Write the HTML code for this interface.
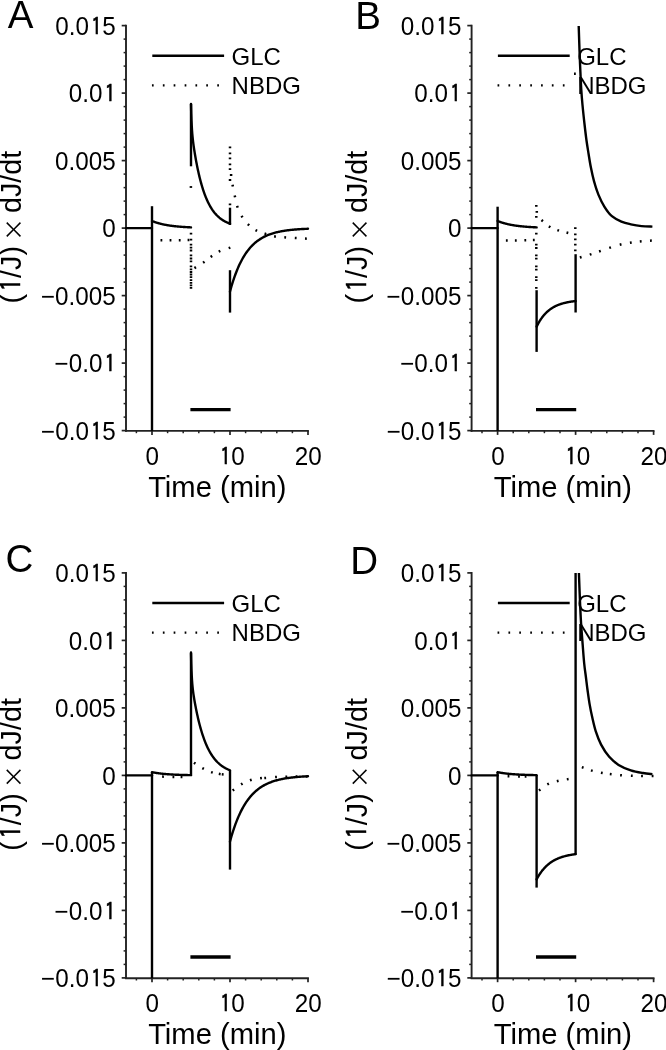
<!DOCTYPE html><html><head><meta charset="utf-8"><title>Figure</title><style>html,body{margin:0;padding:0;background:#fff;}svg{display:block;filter:blur(0.35px);}</style></head><body>
<svg width="666" height="1050" viewBox="0 0 666 1050">
<rect width="666" height="1050" fill="#fff"/>
<g transform="translate(0,0)" stroke="#000" fill="#000" style="font-family:'Liberation Sans',Arial,Helvetica,sans-serif">
<g stroke="#222">
<line x1="126" y1="24.7" x2="126" y2="431.8" stroke-width="1.9"/>
<line x1="125.1" y1="430.9" x2="308.9" y2="430.9" stroke-width="1.9"/>
<line x1="121.7" y1="430.6" x2="126" y2="430.6" stroke-width="1.7"/>
<line x1="123.6" y1="417.1" x2="126" y2="417.1" stroke-width="1.5"/>
<line x1="123.6" y1="403.6" x2="126" y2="403.6" stroke-width="1.5"/>
<line x1="123.6" y1="390.1" x2="126" y2="390.1" stroke-width="1.5"/>
<line x1="123.6" y1="376.6" x2="126" y2="376.6" stroke-width="1.5"/>
<line x1="121.7" y1="363.1" x2="126" y2="363.1" stroke-width="1.7"/>
<line x1="123.6" y1="349.6" x2="126" y2="349.6" stroke-width="1.5"/>
<line x1="123.6" y1="336.1" x2="126" y2="336.1" stroke-width="1.5"/>
<line x1="123.6" y1="322.6" x2="126" y2="322.6" stroke-width="1.5"/>
<line x1="123.6" y1="309.1" x2="126" y2="309.1" stroke-width="1.5"/>
<line x1="121.7" y1="295.6" x2="126" y2="295.6" stroke-width="1.7"/>
<line x1="123.6" y1="282.1" x2="126" y2="282.1" stroke-width="1.5"/>
<line x1="123.6" y1="268.6" x2="126" y2="268.6" stroke-width="1.5"/>
<line x1="123.6" y1="255.1" x2="126" y2="255.1" stroke-width="1.5"/>
<line x1="123.6" y1="241.6" x2="126" y2="241.6" stroke-width="1.5"/>
<line x1="121.7" y1="228.1" x2="126" y2="228.1" stroke-width="1.7"/>
<line x1="123.6" y1="214.6" x2="126" y2="214.6" stroke-width="1.5"/>
<line x1="123.6" y1="201.1" x2="126" y2="201.1" stroke-width="1.5"/>
<line x1="123.6" y1="187.6" x2="126" y2="187.6" stroke-width="1.5"/>
<line x1="123.6" y1="174.1" x2="126" y2="174.1" stroke-width="1.5"/>
<line x1="121.7" y1="160.6" x2="126" y2="160.6" stroke-width="1.7"/>
<line x1="123.6" y1="147.1" x2="126" y2="147.1" stroke-width="1.5"/>
<line x1="123.6" y1="133.6" x2="126" y2="133.6" stroke-width="1.5"/>
<line x1="123.6" y1="120.1" x2="126" y2="120.1" stroke-width="1.5"/>
<line x1="123.6" y1="106.6" x2="126" y2="106.6" stroke-width="1.5"/>
<line x1="121.7" y1="93.1" x2="126" y2="93.1" stroke-width="1.7"/>
<line x1="123.6" y1="79.6" x2="126" y2="79.6" stroke-width="1.5"/>
<line x1="123.6" y1="66.1" x2="126" y2="66.1" stroke-width="1.5"/>
<line x1="123.6" y1="52.6" x2="126" y2="52.6" stroke-width="1.5"/>
<line x1="123.6" y1="39.1" x2="126" y2="39.1" stroke-width="1.5"/>
<line x1="121.7" y1="25.6" x2="126" y2="25.6" stroke-width="1.7"/>
<line x1="136.4" y1="430.9" x2="136.4" y2="433.2" stroke-width="1.5"/>
<line x1="152" y1="430.9" x2="152" y2="434.9" stroke-width="1.7"/>
<line x1="167.6" y1="430.9" x2="167.6" y2="433.2" stroke-width="1.5"/>
<line x1="183.2" y1="430.9" x2="183.2" y2="433.2" stroke-width="1.5"/>
<line x1="198.8" y1="430.9" x2="198.8" y2="433.2" stroke-width="1.5"/>
<line x1="214.4" y1="430.9" x2="214.4" y2="433.2" stroke-width="1.5"/>
<line x1="230" y1="430.9" x2="230" y2="434.9" stroke-width="1.7"/>
<line x1="245.6" y1="430.9" x2="245.6" y2="433.2" stroke-width="1.5"/>
<line x1="261.2" y1="430.9" x2="261.2" y2="433.2" stroke-width="1.5"/>
<line x1="276.8" y1="430.9" x2="276.8" y2="433.2" stroke-width="1.5"/>
<line x1="292.4" y1="430.9" x2="292.4" y2="433.2" stroke-width="1.5"/>
<line x1="308" y1="430.9" x2="308" y2="434.9" stroke-width="1.7"/>
</g>
<g stroke="none">
<text transform="translate(115.8,34.9) scale(1,1.045)" text-anchor="end" font-size="24.25">0.0<tspan font-family="IPAGothic,'Liberation Sans',sans-serif" font-size="22.08" stroke="#000" stroke-width="0.45" dx="2.02" style="letter-spacing:0.29px">1</tspan>5</text>
<text transform="translate(115.8,102.4) scale(1,1.045)" text-anchor="end" font-size="24.25">0.0<tspan font-family="IPAGothic,'Liberation Sans',sans-serif" font-size="22.08" stroke="#000" stroke-width="0.45" dx="2.02" style="letter-spacing:0.29px">1</tspan></text>
<text transform="translate(115.8,169.9) scale(1,1.045)" text-anchor="end" font-size="24.25">0.005</text>
<text transform="translate(115.8,237.4) scale(1,1.045)" text-anchor="end" font-size="24.25">0</text>
<text transform="translate(115.8,304.9) scale(1,1.045)" text-anchor="end" font-size="24.25">−0.005</text>
<text transform="translate(115.8,372.4) scale(1,1.045)" text-anchor="end" font-size="24.25">−0.0<tspan font-family="IPAGothic,'Liberation Sans',sans-serif" font-size="22.08" stroke="#000" stroke-width="0.45" dx="2.02" style="letter-spacing:0.29px">1</tspan></text>
<text transform="translate(115.8,439.9) scale(1,1.045)" text-anchor="end" font-size="24.25">−0.0<tspan font-family="IPAGothic,'Liberation Sans',sans-serif" font-size="22.08" stroke="#000" stroke-width="0.45" dx="2.02" style="letter-spacing:0.29px">1</tspan>5</text>
<text transform="translate(152.3,464.6) scale(1,1.045)" text-anchor="middle" font-size="24.25">0</text>
<text transform="translate(230.3,464.6) scale(1,1.045)" text-anchor="middle" font-size="24.25"><tspan font-family="IPAGothic,'Liberation Sans',sans-serif" font-size="22.08" stroke="#000" stroke-width="0.45" dx="2.02" style="letter-spacing:0.29px">1</tspan>0</text>
<text transform="translate(308.3,464.6) scale(1,1.045)" text-anchor="middle" font-size="24.25">20</text>
<text transform="translate(217.3,496.7) scale(1,1.03)" text-anchor="middle" font-size="29.2">Time (min)</text>
<text transform="translate(21.4,227.1) rotate(-90)" text-anchor="middle" font-size="28.8">(<tspan font-family="IPAGothic,'Liberation Sans',sans-serif" font-size="26.5" stroke="#000" stroke-width="0.45" dx="2.42" style="letter-spacing:0.35px">1</tspan>/J) <tspan font-family="'Noto Sans CJK SC','Liberation Sans',sans-serif" font-size="23" dx="-3.1" dy="0.8">×</tspan><tspan dx="-3.1" dy="-0.8"> dJ/dt</tspan></text>
<text x="7.8" y="28.3" font-size="38.5">A</text>
<text transform="translate(231.6,65.1) scale(1,1.03)" font-size="24">GLC</text>
<text transform="translate(231.6,93.8) scale(1,1.03)" font-size="24">NBDG</text>
</g>
<line x1="152.3" y1="55.7" x2="224.1" y2="55.7" stroke-width="2.4"/>
<path d="M151.95,85.3L153.65,85.3M162.85,85.3L164.55,85.3M173.65,85.3L175.35,85.3M184.65,85.3L186.35,85.3M195.45,85.3L197.15,85.3M206.25,85.3L207.95,85.3M217.25,85.3L218.95,85.3" fill="none" stroke-width="2.3"/>
<line x1="190.4" y1="409.7" x2="230.6" y2="409.7" stroke-width="3.3"/>
<polyline points="126,228.1 152,228.1" fill="none" stroke-width="2.4" stroke-linejoin="round" stroke-linecap="round"/>
<line x1="152" y1="206.2" x2="152" y2="430.9" stroke-width="2.4"/>
<polyline points="152,220.94 152.39,221.11 152.78,221.26 153.17,221.42 153.56,221.57 153.95,221.71 154.34,221.86 154.73,222 155.12,222.13 155.51,222.27 155.9,222.4 156.29,222.53 156.68,222.65 157.07,222.78 157.46,222.89 157.85,223.01 158.24,223.13 158.63,223.24 159.02,223.35 159.41,223.45 159.8,223.56 160.19,223.66 160.58,223.76 160.97,223.86 161.36,223.95 161.75,224.05 162.14,224.14 162.53,224.23 162.92,224.31 163.31,224.4 163.7,224.48 164.09,224.56 164.48,224.64 164.87,224.72 165.26,224.8 165.65,224.87 166.04,224.94 166.43,225.01 166.82,225.08 167.21,225.15 167.6,225.22 167.99,225.28 168.38,225.35 168.77,225.41 169.16,225.47 169.55,225.53 169.94,225.58 170.33,225.64 170.72,225.7 171.11,225.75 171.5,225.8 171.89,225.85 172.28,225.91 172.67,225.95 173.06,226 173.45,226.05 173.84,226.1 174.23,226.14 174.62,226.19 175.01,226.23 175.4,226.27 175.79,226.31 176.18,226.35 176.57,226.39 176.96,226.43 177.35,226.47 177.74,226.5 178.13,226.54 178.52,226.57 178.91,226.61 179.3,226.64 179.69,226.67 180.08,226.71 180.47,226.74 180.86,226.77 181.25,226.8 181.64,226.83 182.03,226.86 182.42,226.88 182.81,226.91 183.2,226.94 183.59,226.96 183.98,226.99 184.37,227.02 184.76,227.04 185.15,227.06 185.54,227.09 185.93,227.11 186.32,227.13 186.71,227.15 187.1,227.17 187.49,227.2 187.88,227.22 188.27,227.24 188.66,227.26 189.05,227.27 189.44,227.29 189.83,227.31 190.22,227.33 190.61,227.35 191,227.36" fill="none" stroke-width="2.4" stroke-linejoin="round" stroke-linecap="round"/>
<line x1="191" y1="104" x2="191" y2="166.3" stroke-width="2.4"/>
<polyline points="191,103.9 191.26,113.81 191.52,121.01 191.78,126.41 192.04,130.61 192.3,134.01 192.56,136.86 192.82,139.35 193.08,141.58 193.34,143.62 193.6,145.54 193.86,147.35 194.12,149.09 194.38,150.77 194.64,152.4 194.9,153.98 195.16,155.52 195.42,157.03 195.68,158.5 195.94,159.94 196.2,161.35 196.46,162.72 196.72,164.07 196.98,165.39 197.24,166.69 197.5,167.95 197.76,169.19 198.02,170.41 198.28,171.6 198.54,172.76 198.8,173.9 199.06,175.02 199.32,176.12 199.58,177.19 199.84,178.24 200.1,179.27 200.36,180.27 200.62,181.26 200.88,182.22 201.14,183.17 201.4,184.1 201.66,185 201.92,185.89 202.18,186.76 202.44,187.62 202.7,188.45 202.96,189.27 203.22,190.07 203.48,190.85 203.74,191.62 204,192.37 204.26,193.11 204.52,193.83 204.78,194.54 205.04,195.23 205.3,195.91 205.56,196.57 205.82,197.22 206.08,197.86 206.34,198.48 206.6,199.09 206.86,199.69 207.12,200.28 207.38,200.85 207.64,201.41 207.9,201.96 208.16,202.5 208.42,203.03 208.68,203.54 208.94,204.05 209.2,204.55 209.46,205.03 209.72,205.51 209.98,205.97 210.24,206.43 210.5,206.88 210.76,207.31 211.02,207.74 211.28,208.16 211.54,208.57 211.8,208.98 212.06,209.37 212.32,209.76 212.58,210.13 212.84,210.51 213.1,210.87 213.36,211.22 213.62,211.57 213.88,211.91 214.14,212.25 214.4,212.57 214.66,212.89 214.92,213.21 215.18,213.51 215.44,213.81 215.7,214.11 215.96,214.4 216.22,214.68 216.48,214.96 216.74,215.23 217,215.49 217.26,215.75 217.52,216.01 217.78,216.26 218.04,216.5 218.3,216.74 218.56,216.97 218.82,217.2 219.08,217.43 219.34,217.65 219.6,217.86 219.86,218.07 220.12,218.28 220.38,218.48 220.64,218.68 220.9,218.88 221.16,219.07 221.42,219.25 221.68,219.44 221.94,219.61 222.2,219.79 222.46,219.96 222.72,220.13 222.98,220.29 223.24,220.45 223.5,220.61 223.76,220.77 224.02,220.92 224.28,221.06 224.54,221.21 224.8,221.35 225.06,221.49 225.32,221.63 225.58,221.76 225.84,221.89 226.1,222.02 226.36,222.14 226.62,222.27 226.88,222.39 227.14,222.51 227.4,222.62 227.66,222.73 227.92,222.84 228.18,222.95 228.44,223.06 228.7,223.16 228.96,223.26 229.22,223.36 229.48,223.46 229.74,223.56 230,223.65" fill="none" stroke-width="2.4" stroke-linejoin="round" stroke-linecap="round"/>
<line x1="230" y1="207.7" x2="230" y2="225" stroke-width="2.4"/>
<line x1="230" y1="270.2" x2="230" y2="312.6" stroke-width="2.4"/>
<polyline points="230,291.55 230.78,288.73 231.56,286.04 232.34,283.46 233.12,281 233.9,278.65 234.68,276.4 235.46,274.26 236.24,272.21 237.02,270.25 237.8,268.37 238.58,266.58 239.36,264.87 240.14,263.24 240.92,261.68 241.7,260.19 242.48,258.76 243.26,257.4 244.04,256.1 244.82,254.85 245.6,253.66 246.38,252.53 247.16,251.44 247.94,250.4 248.72,249.41 249.5,248.47 250.28,247.56 251.06,246.7 251.84,245.87 252.62,245.08 253.4,244.33 254.18,243.6 254.96,242.92 255.74,242.26 256.52,241.63 257.3,241.03 258.08,240.45 258.86,239.9 259.64,239.38 260.42,238.88 261.2,238.4 261.98,237.94 262.76,237.5 263.54,237.09 264.32,236.69 265.1,236.31 265.88,235.94 266.66,235.59 267.44,235.26 268.22,234.94 269,234.64 269.78,234.35 270.56,234.07 271.34,233.8 272.12,233.55 272.9,233.31 273.68,233.08 274.46,232.86 275.24,232.64 276.02,232.44 276.8,232.25 277.58,232.07 278.36,231.89 279.14,231.72 279.92,231.56 280.7,231.41 281.48,231.26 282.26,231.12 283.04,230.98 283.82,230.86 284.6,230.73 285.38,230.62 286.16,230.5 286.94,230.4 287.72,230.3 288.5,230.2 289.28,230.11 290.06,230.02 290.84,229.93 291.62,229.85 292.4,229.77 293.18,229.7 293.96,229.63 294.74,229.56 295.52,229.49 296.3,229.43 297.08,229.37 297.86,229.32 298.64,229.26 299.42,229.21 300.2,229.16 300.98,229.11 301.76,229.07 302.54,229.03 303.32,228.98 304.1,228.95 304.88,228.91 305.66,228.87 306.44,228.84 307.22,228.8 308,228.77" fill="none" stroke-width="2.4" stroke-linejoin="round" stroke-linecap="round"/>
<path d="M160.5,240.2L162.3,240.2M169.6,240.2L171.4,240.2M178.8,240.21L180.6,240.19M187.6,240.02L189.4,239.98" fill="none" stroke-width="2.5"/>
<path d="M191,232.8L191,234.6M191,238.8L191,240.6M191,243.8L191,245.6M191,246.8L191,248.6M191,249.6L191,251.4M191,254.4L191,256.2M191,257.6L191,259.4M191,260.4L191,262.2M191,265.4L191,267.2M191,268.4L191,270.2M191,271.1L191,272.9M191,273.6L191,275.4M191,276.2L191,278M191,279.3L191,281.1M191,282L191,283.8M191,284.4L191,286.2M191,286.9L191,288.7" fill="none" stroke-width="2.5"/>
<path d="M190.9,186.1L190.9,187.9" fill="none" stroke-width="2.5"/>
<path d="M194.44,268.08L195.96,267.12M203.06,262.71L204.54,261.69M210.66,256.92L212.14,255.88M218.69,251.58L220.31,250.82M228.65,248.18L230.35,247.62" fill="none" stroke-width="2.5"/>
<path d="M230,146.5L230,148.3M230,152.5L230,154.3M230,157.5L230,159.3M230,163.4L230,165.2M230,168.2L230,170M231.1,174.1L231.1,175.9M230,179.1L230,180.9M230,203.4L230,205.2" fill="none" stroke-width="2.5"/>
<path d="M232.52,184.82L232.88,186.58M234.7,195.52L235.1,197.28M237.1,205.95L237.7,207.65M241.53,215.93L242.47,217.47M247.85,224.18L249.15,225.42M255.51,230.08L257.09,230.92M264.54,233.53L266.26,234.07M274.11,236.34L275.89,236.66M284.3,237.33L286.1,237.47M294.8,237.95L296.6,238.05M305,238.55L306.8,238.65" fill="none" stroke-width="2.5"/>
</g>
<g transform="translate(345.6,0)" stroke="#000" fill="#000" style="font-family:'Liberation Sans',Arial,Helvetica,sans-serif">
<g stroke="#222">
<line x1="126" y1="24.7" x2="126" y2="431.8" stroke-width="1.9"/>
<line x1="125.1" y1="430.9" x2="308.9" y2="430.9" stroke-width="1.9"/>
<line x1="121.7" y1="430.6" x2="126" y2="430.6" stroke-width="1.7"/>
<line x1="123.6" y1="417.1" x2="126" y2="417.1" stroke-width="1.5"/>
<line x1="123.6" y1="403.6" x2="126" y2="403.6" stroke-width="1.5"/>
<line x1="123.6" y1="390.1" x2="126" y2="390.1" stroke-width="1.5"/>
<line x1="123.6" y1="376.6" x2="126" y2="376.6" stroke-width="1.5"/>
<line x1="121.7" y1="363.1" x2="126" y2="363.1" stroke-width="1.7"/>
<line x1="123.6" y1="349.6" x2="126" y2="349.6" stroke-width="1.5"/>
<line x1="123.6" y1="336.1" x2="126" y2="336.1" stroke-width="1.5"/>
<line x1="123.6" y1="322.6" x2="126" y2="322.6" stroke-width="1.5"/>
<line x1="123.6" y1="309.1" x2="126" y2="309.1" stroke-width="1.5"/>
<line x1="121.7" y1="295.6" x2="126" y2="295.6" stroke-width="1.7"/>
<line x1="123.6" y1="282.1" x2="126" y2="282.1" stroke-width="1.5"/>
<line x1="123.6" y1="268.6" x2="126" y2="268.6" stroke-width="1.5"/>
<line x1="123.6" y1="255.1" x2="126" y2="255.1" stroke-width="1.5"/>
<line x1="123.6" y1="241.6" x2="126" y2="241.6" stroke-width="1.5"/>
<line x1="121.7" y1="228.1" x2="126" y2="228.1" stroke-width="1.7"/>
<line x1="123.6" y1="214.6" x2="126" y2="214.6" stroke-width="1.5"/>
<line x1="123.6" y1="201.1" x2="126" y2="201.1" stroke-width="1.5"/>
<line x1="123.6" y1="187.6" x2="126" y2="187.6" stroke-width="1.5"/>
<line x1="123.6" y1="174.1" x2="126" y2="174.1" stroke-width="1.5"/>
<line x1="121.7" y1="160.6" x2="126" y2="160.6" stroke-width="1.7"/>
<line x1="123.6" y1="147.1" x2="126" y2="147.1" stroke-width="1.5"/>
<line x1="123.6" y1="133.6" x2="126" y2="133.6" stroke-width="1.5"/>
<line x1="123.6" y1="120.1" x2="126" y2="120.1" stroke-width="1.5"/>
<line x1="123.6" y1="106.6" x2="126" y2="106.6" stroke-width="1.5"/>
<line x1="121.7" y1="93.1" x2="126" y2="93.1" stroke-width="1.7"/>
<line x1="123.6" y1="79.6" x2="126" y2="79.6" stroke-width="1.5"/>
<line x1="123.6" y1="66.1" x2="126" y2="66.1" stroke-width="1.5"/>
<line x1="123.6" y1="52.6" x2="126" y2="52.6" stroke-width="1.5"/>
<line x1="123.6" y1="39.1" x2="126" y2="39.1" stroke-width="1.5"/>
<line x1="121.7" y1="25.6" x2="126" y2="25.6" stroke-width="1.7"/>
<line x1="136.4" y1="430.9" x2="136.4" y2="433.2" stroke-width="1.5"/>
<line x1="152" y1="430.9" x2="152" y2="434.9" stroke-width="1.7"/>
<line x1="167.6" y1="430.9" x2="167.6" y2="433.2" stroke-width="1.5"/>
<line x1="183.2" y1="430.9" x2="183.2" y2="433.2" stroke-width="1.5"/>
<line x1="198.8" y1="430.9" x2="198.8" y2="433.2" stroke-width="1.5"/>
<line x1="214.4" y1="430.9" x2="214.4" y2="433.2" stroke-width="1.5"/>
<line x1="230" y1="430.9" x2="230" y2="434.9" stroke-width="1.7"/>
<line x1="245.6" y1="430.9" x2="245.6" y2="433.2" stroke-width="1.5"/>
<line x1="261.2" y1="430.9" x2="261.2" y2="433.2" stroke-width="1.5"/>
<line x1="276.8" y1="430.9" x2="276.8" y2="433.2" stroke-width="1.5"/>
<line x1="292.4" y1="430.9" x2="292.4" y2="433.2" stroke-width="1.5"/>
<line x1="308" y1="430.9" x2="308" y2="434.9" stroke-width="1.7"/>
</g>
<g stroke="none">
<text transform="translate(115.8,34.9) scale(1,1.045)" text-anchor="end" font-size="24.25">0.0<tspan font-family="IPAGothic,'Liberation Sans',sans-serif" font-size="22.08" stroke="#000" stroke-width="0.45" dx="2.02" style="letter-spacing:0.29px">1</tspan>5</text>
<text transform="translate(115.8,102.4) scale(1,1.045)" text-anchor="end" font-size="24.25">0.0<tspan font-family="IPAGothic,'Liberation Sans',sans-serif" font-size="22.08" stroke="#000" stroke-width="0.45" dx="2.02" style="letter-spacing:0.29px">1</tspan></text>
<text transform="translate(115.8,169.9) scale(1,1.045)" text-anchor="end" font-size="24.25">0.005</text>
<text transform="translate(115.8,237.4) scale(1,1.045)" text-anchor="end" font-size="24.25">0</text>
<text transform="translate(115.8,304.9) scale(1,1.045)" text-anchor="end" font-size="24.25">−0.005</text>
<text transform="translate(115.8,372.4) scale(1,1.045)" text-anchor="end" font-size="24.25">−0.0<tspan font-family="IPAGothic,'Liberation Sans',sans-serif" font-size="22.08" stroke="#000" stroke-width="0.45" dx="2.02" style="letter-spacing:0.29px">1</tspan></text>
<text transform="translate(115.8,439.9) scale(1,1.045)" text-anchor="end" font-size="24.25">−0.0<tspan font-family="IPAGothic,'Liberation Sans',sans-serif" font-size="22.08" stroke="#000" stroke-width="0.45" dx="2.02" style="letter-spacing:0.29px">1</tspan>5</text>
<text transform="translate(152.3,464.6) scale(1,1.045)" text-anchor="middle" font-size="24.25">0</text>
<text transform="translate(230.3,464.6) scale(1,1.045)" text-anchor="middle" font-size="24.25"><tspan font-family="IPAGothic,'Liberation Sans',sans-serif" font-size="22.08" stroke="#000" stroke-width="0.45" dx="2.02" style="letter-spacing:0.29px">1</tspan>0</text>
<text transform="translate(308.3,464.6) scale(1,1.045)" text-anchor="middle" font-size="24.25">20</text>
<text transform="translate(217.3,496.7) scale(1,1.03)" text-anchor="middle" font-size="29.2">Time (min)</text>
<text transform="translate(21.4,227.1) rotate(-90)" text-anchor="middle" font-size="28.8">(<tspan font-family="IPAGothic,'Liberation Sans',sans-serif" font-size="26.5" stroke="#000" stroke-width="0.45" dx="2.42" style="letter-spacing:0.35px">1</tspan>/J) <tspan font-family="'Noto Sans CJK SC','Liberation Sans',sans-serif" font-size="23" dx="-3.1" dy="0.8">×</tspan><tspan dx="-3.1" dy="-0.8"> dJ/dt</tspan></text>
<text x="9.6" y="28.9" font-size="38.5">B</text>
<text transform="translate(231.6,65.1) scale(1,1.03)" font-size="24">GLC</text>
<text transform="translate(231.6,93.8) scale(1,1.03)" font-size="24">NBDG</text>
</g>
<line x1="152.3" y1="55.7" x2="224.1" y2="55.7" stroke-width="2.4"/>
<path d="M151.95,85.3L153.65,85.3M162.85,85.3L164.55,85.3M173.65,85.3L175.35,85.3M184.65,85.3L186.35,85.3M195.45,85.3L197.15,85.3M206.25,85.3L207.95,85.3M217.25,85.3L218.95,85.3" fill="none" stroke-width="2.3"/>
<line x1="190.4" y1="409.7" x2="230.6" y2="409.7" stroke-width="3.3"/>
<polyline points="126,228.1 152,228.1" fill="none" stroke-width="2.4" stroke-linejoin="round" stroke-linecap="round"/>
<line x1="152" y1="206.7" x2="152" y2="430.9" stroke-width="2.4"/>
<polyline points="152,220.94 152.39,221.11 152.78,221.26 153.17,221.42 153.56,221.57 153.95,221.71 154.34,221.86 154.73,222 155.12,222.13 155.51,222.27 155.9,222.4 156.29,222.53 156.68,222.65 157.07,222.78 157.46,222.89 157.85,223.01 158.24,223.13 158.63,223.24 159.02,223.35 159.41,223.45 159.8,223.56 160.19,223.66 160.58,223.76 160.97,223.86 161.36,223.95 161.75,224.05 162.14,224.14 162.53,224.23 162.92,224.31 163.31,224.4 163.7,224.48 164.09,224.56 164.48,224.64 164.87,224.72 165.26,224.8 165.65,224.87 166.04,224.94 166.43,225.01 166.82,225.08 167.21,225.15 167.6,225.22 167.99,225.28 168.38,225.35 168.77,225.41 169.16,225.47 169.55,225.53 169.94,225.58 170.33,225.64 170.72,225.7 171.11,225.75 171.5,225.8 171.89,225.85 172.28,225.91 172.67,225.95 173.06,226 173.45,226.05 173.84,226.1 174.23,226.14 174.62,226.19 175.01,226.23 175.4,226.27 175.79,226.31 176.18,226.35 176.57,226.39 176.96,226.43 177.35,226.47 177.74,226.5 178.13,226.54 178.52,226.57 178.91,226.61 179.3,226.64 179.69,226.67 180.08,226.71 180.47,226.74 180.86,226.77 181.25,226.8 181.64,226.83 182.03,226.86 182.42,226.88 182.81,226.91 183.2,226.94 183.59,226.96 183.98,226.99 184.37,227.02 184.76,227.04 185.15,227.06 185.54,227.09 185.93,227.11 186.32,227.13 186.71,227.15 187.1,227.17 187.49,227.2 187.88,227.22 188.27,227.24 188.66,227.26 189.05,227.27 189.44,227.29 189.83,227.31 190.22,227.33 190.61,227.35 191,227.36" fill="none" stroke-width="2.4" stroke-linejoin="round" stroke-linecap="round"/>
<line x1="191" y1="290.2" x2="191" y2="351.9" stroke-width="2.4"/>
<polyline points="191,326.65 191.39,325.87 191.78,325.11 192.17,324.37 192.56,323.65 192.95,322.96 193.34,322.28 193.73,321.63 194.12,320.99 194.51,320.37 194.9,319.77 195.29,319.19 195.68,318.62 196.07,318.07 196.46,317.54 196.85,317.02 197.24,316.52 197.63,316.03 198.02,315.55 198.41,315.09 198.8,314.64 199.19,314.21 199.58,313.79 199.97,313.38 200.36,312.98 200.75,312.59 201.14,312.22 201.53,311.85 201.92,311.5 202.31,311.16 202.7,310.82 203.09,310.5 203.48,310.18 203.87,309.88 204.26,309.58 204.65,309.29 205.04,309.02 205.43,308.74 205.82,308.48 206.21,308.22 206.6,307.98 206.99,307.73 207.38,307.5 207.77,307.27 208.16,307.05 208.55,306.84 208.94,306.63 209.33,306.43 209.72,306.23 210.11,306.04 210.5,305.85 210.89,305.67 211.28,305.5 211.67,305.33 212.06,305.17 212.45,305.01 212.84,304.85 213.23,304.7 213.62,304.55 214.01,304.41 214.4,304.27 214.79,304.14 215.18,304.01 215.57,303.88 215.96,303.76 216.35,303.64 216.74,303.53 217.13,303.41 217.52,303.3 217.91,303.2 218.3,303.1 218.69,303 219.08,302.9 219.47,302.8 219.86,302.71 220.25,302.62 220.64,302.54 221.03,302.45 221.42,302.37 221.81,302.29 222.2,302.22 222.59,302.14 222.98,302.07 223.37,302 223.76,301.93 224.15,301.87 224.54,301.8 224.93,301.74 225.32,301.68 225.71,301.62 226.1,301.56 226.49,301.51 226.88,301.45 227.27,301.4 227.66,301.35 228.05,301.3 228.44,301.25 228.83,301.21 229.22,301.16 229.61,301.12 230,301.08" fill="none" stroke-width="2.4" stroke-linejoin="round" stroke-linecap="round"/>
<line x1="230" y1="254.2" x2="230" y2="312.5" stroke-width="2.4"/>
<path d="M233.1,26 C233.23,30 233.63,42.67 233.9,50 C234.17,57.33 234.4,63.33 234.7,70 C235,76.67 235.33,84.17 235.7,90 C236.07,95.83 236.37,99.33 236.9,105 C237.43,110.67 238.23,118.08 238.9,124 C239.57,129.92 240.22,135.5 240.9,140.5 C241.58,145.5 242.27,149.48 243,154 C243.73,158.52 244.4,163.08 245.3,167.6 C246.2,172.12 247.15,176.6 248.4,181.1 C249.65,185.6 251.05,190.32 252.8,194.6 C254.55,198.88 256.65,203.2 258.9,206.8 C261.15,210.4 263.48,213.73 266.3,216.2 C269.12,218.67 272.65,220.25 275.8,221.6 C278.95,222.95 281.83,223.55 285.2,224.3 C288.57,225.05 292.4,225.72 296,226.1 C299.6,226.48 305,226.52 306.8,226.6" fill="none" stroke-width="2.4" stroke-linejoin="round"/>
<path d="M160.3,240.4L162.1,240.4M169.3,240.41L171.1,240.39M178.8,240.22L180.6,240.18M187.3,240.02L189.1,239.98" fill="none" stroke-width="2.5"/>
<path d="M228.4,73.7L230.2,73.7" fill="none" stroke-width="2.5"/>
<path d="M190.7,205L190.7,206.8M190.7,215.9L190.7,217.7M190.7,232.8L190.7,234.6M190.7,243.7L190.7,245.5M190.7,247.1L190.7,248.9M190.7,254.4L190.7,256.2M190.7,257.8L190.7,259.6M190.7,265.4L190.7,267.2M190.7,268.7L190.7,270.5M190.7,276.3L190.7,278.1M190.7,279.3L190.7,281.1M190.7,287L190.7,288.8M191.2,210.9L191.2,212.7" fill="none" stroke-width="2.5"/>
<path d="M195.91,220.02L197.29,221.18M203.23,226.33L204.77,227.27M211.75,230.12L213.45,230.68M220.93,232.48L222.67,232.92" fill="none" stroke-width="2.5"/>
<path d="M229.7,227.2L229.7,229M229.7,233.5L229.7,235.3M229.7,238.4L229.7,240.2M229.7,243.8L229.7,245.6M229.7,249.5L229.7,251.3" fill="none" stroke-width="2.5"/>
<path d="M234.24,257.55L235.96,257.05M244.14,254.67L245.86,254.13M253.45,251.5L255.15,250.9M263.64,247.88L265.36,247.32M274.13,244.71L275.87,244.29M284.31,242.74L286.09,242.46M294.2,241.39L296,241.21M304.4,240.66L306.2,240.54" fill="none" stroke-width="2.5"/>
</g>
<g transform="translate(0,547.3)" stroke="#000" fill="#000" style="font-family:'Liberation Sans',Arial,Helvetica,sans-serif">
<g stroke="#222">
<line x1="126" y1="24.7" x2="126" y2="431.8" stroke-width="1.9"/>
<line x1="125.1" y1="430.9" x2="308.9" y2="430.9" stroke-width="1.9"/>
<line x1="121.7" y1="430.6" x2="126" y2="430.6" stroke-width="1.7"/>
<line x1="123.6" y1="417.1" x2="126" y2="417.1" stroke-width="1.5"/>
<line x1="123.6" y1="403.6" x2="126" y2="403.6" stroke-width="1.5"/>
<line x1="123.6" y1="390.1" x2="126" y2="390.1" stroke-width="1.5"/>
<line x1="123.6" y1="376.6" x2="126" y2="376.6" stroke-width="1.5"/>
<line x1="121.7" y1="363.1" x2="126" y2="363.1" stroke-width="1.7"/>
<line x1="123.6" y1="349.6" x2="126" y2="349.6" stroke-width="1.5"/>
<line x1="123.6" y1="336.1" x2="126" y2="336.1" stroke-width="1.5"/>
<line x1="123.6" y1="322.6" x2="126" y2="322.6" stroke-width="1.5"/>
<line x1="123.6" y1="309.1" x2="126" y2="309.1" stroke-width="1.5"/>
<line x1="121.7" y1="295.6" x2="126" y2="295.6" stroke-width="1.7"/>
<line x1="123.6" y1="282.1" x2="126" y2="282.1" stroke-width="1.5"/>
<line x1="123.6" y1="268.6" x2="126" y2="268.6" stroke-width="1.5"/>
<line x1="123.6" y1="255.1" x2="126" y2="255.1" stroke-width="1.5"/>
<line x1="123.6" y1="241.6" x2="126" y2="241.6" stroke-width="1.5"/>
<line x1="121.7" y1="228.1" x2="126" y2="228.1" stroke-width="1.7"/>
<line x1="123.6" y1="214.6" x2="126" y2="214.6" stroke-width="1.5"/>
<line x1="123.6" y1="201.1" x2="126" y2="201.1" stroke-width="1.5"/>
<line x1="123.6" y1="187.6" x2="126" y2="187.6" stroke-width="1.5"/>
<line x1="123.6" y1="174.1" x2="126" y2="174.1" stroke-width="1.5"/>
<line x1="121.7" y1="160.6" x2="126" y2="160.6" stroke-width="1.7"/>
<line x1="123.6" y1="147.1" x2="126" y2="147.1" stroke-width="1.5"/>
<line x1="123.6" y1="133.6" x2="126" y2="133.6" stroke-width="1.5"/>
<line x1="123.6" y1="120.1" x2="126" y2="120.1" stroke-width="1.5"/>
<line x1="123.6" y1="106.6" x2="126" y2="106.6" stroke-width="1.5"/>
<line x1="121.7" y1="93.1" x2="126" y2="93.1" stroke-width="1.7"/>
<line x1="123.6" y1="79.6" x2="126" y2="79.6" stroke-width="1.5"/>
<line x1="123.6" y1="66.1" x2="126" y2="66.1" stroke-width="1.5"/>
<line x1="123.6" y1="52.6" x2="126" y2="52.6" stroke-width="1.5"/>
<line x1="123.6" y1="39.1" x2="126" y2="39.1" stroke-width="1.5"/>
<line x1="121.7" y1="25.6" x2="126" y2="25.6" stroke-width="1.7"/>
<line x1="136.4" y1="430.9" x2="136.4" y2="433.2" stroke-width="1.5"/>
<line x1="152" y1="430.9" x2="152" y2="434.9" stroke-width="1.7"/>
<line x1="167.6" y1="430.9" x2="167.6" y2="433.2" stroke-width="1.5"/>
<line x1="183.2" y1="430.9" x2="183.2" y2="433.2" stroke-width="1.5"/>
<line x1="198.8" y1="430.9" x2="198.8" y2="433.2" stroke-width="1.5"/>
<line x1="214.4" y1="430.9" x2="214.4" y2="433.2" stroke-width="1.5"/>
<line x1="230" y1="430.9" x2="230" y2="434.9" stroke-width="1.7"/>
<line x1="245.6" y1="430.9" x2="245.6" y2="433.2" stroke-width="1.5"/>
<line x1="261.2" y1="430.9" x2="261.2" y2="433.2" stroke-width="1.5"/>
<line x1="276.8" y1="430.9" x2="276.8" y2="433.2" stroke-width="1.5"/>
<line x1="292.4" y1="430.9" x2="292.4" y2="433.2" stroke-width="1.5"/>
<line x1="308" y1="430.9" x2="308" y2="434.9" stroke-width="1.7"/>
</g>
<g stroke="none">
<text transform="translate(115.8,34.9) scale(1,1.045)" text-anchor="end" font-size="24.25">0.0<tspan font-family="IPAGothic,'Liberation Sans',sans-serif" font-size="22.08" stroke="#000" stroke-width="0.45" dx="2.02" style="letter-spacing:0.29px">1</tspan>5</text>
<text transform="translate(115.8,102.4) scale(1,1.045)" text-anchor="end" font-size="24.25">0.0<tspan font-family="IPAGothic,'Liberation Sans',sans-serif" font-size="22.08" stroke="#000" stroke-width="0.45" dx="2.02" style="letter-spacing:0.29px">1</tspan></text>
<text transform="translate(115.8,169.9) scale(1,1.045)" text-anchor="end" font-size="24.25">0.005</text>
<text transform="translate(115.8,237.4) scale(1,1.045)" text-anchor="end" font-size="24.25">0</text>
<text transform="translate(115.8,304.9) scale(1,1.045)" text-anchor="end" font-size="24.25">−0.005</text>
<text transform="translate(115.8,372.4) scale(1,1.045)" text-anchor="end" font-size="24.25">−0.0<tspan font-family="IPAGothic,'Liberation Sans',sans-serif" font-size="22.08" stroke="#000" stroke-width="0.45" dx="2.02" style="letter-spacing:0.29px">1</tspan></text>
<text transform="translate(115.8,439.9) scale(1,1.045)" text-anchor="end" font-size="24.25">−0.0<tspan font-family="IPAGothic,'Liberation Sans',sans-serif" font-size="22.08" stroke="#000" stroke-width="0.45" dx="2.02" style="letter-spacing:0.29px">1</tspan>5</text>
<text transform="translate(152.3,464.6) scale(1,1.045)" text-anchor="middle" font-size="24.25">0</text>
<text transform="translate(230.3,464.6) scale(1,1.045)" text-anchor="middle" font-size="24.25"><tspan font-family="IPAGothic,'Liberation Sans',sans-serif" font-size="22.08" stroke="#000" stroke-width="0.45" dx="2.02" style="letter-spacing:0.29px">1</tspan>0</text>
<text transform="translate(308.3,464.6) scale(1,1.045)" text-anchor="middle" font-size="24.25">20</text>
<text transform="translate(217.3,496.7) scale(1,1.03)" text-anchor="middle" font-size="29.2">Time (min)</text>
<text transform="translate(21.4,227.1) rotate(-90)" text-anchor="middle" font-size="28.8">(<tspan font-family="IPAGothic,'Liberation Sans',sans-serif" font-size="26.5" stroke="#000" stroke-width="0.45" dx="2.42" style="letter-spacing:0.35px">1</tspan>/J) <tspan font-family="'Noto Sans CJK SC','Liberation Sans',sans-serif" font-size="23" dx="-3.1" dy="0.8">×</tspan><tspan dx="-3.1" dy="-0.8"> dJ/dt</tspan></text>
<text x="5.4" y="25" font-size="38.5">C</text>
<text transform="translate(231.6,65.1) scale(1,1.03)" font-size="24">GLC</text>
<text transform="translate(231.6,93.8) scale(1,1.03)" font-size="24">NBDG</text>
</g>
<line x1="152.3" y1="55.7" x2="224.1" y2="55.7" stroke-width="2.4"/>
<path d="M151.95,85.3L153.65,85.3M162.85,85.3L164.55,85.3M173.65,85.3L175.35,85.3M184.65,85.3L186.35,85.3M195.45,85.3L197.15,85.3M206.25,85.3L207.95,85.3M217.25,85.3L218.95,85.3" fill="none" stroke-width="2.3"/>
<line x1="190.4" y1="409.7" x2="230.6" y2="409.7" stroke-width="3.3"/>
<polyline points="126,228.1 152,228.1" fill="none" stroke-width="2.4" stroke-linejoin="round" stroke-linecap="round"/>
<line x1="152" y1="224.5" x2="152" y2="430.9" stroke-width="2.4"/>
<polyline points="152,224.86 152.39,224.94 152.78,225.02 153.17,225.09 153.56,225.17 153.95,225.24 154.34,225.31 154.73,225.38 155.12,225.45 155.51,225.51 155.9,225.58 156.29,225.64 156.68,225.7 157.07,225.76 157.46,225.82 157.85,225.87 158.24,225.93 158.63,225.98 159.02,226.03 159.41,226.09 159.8,226.13 160.19,226.18 160.58,226.23 160.97,226.28 161.36,226.32 161.75,226.37 162.14,226.41 162.53,226.45 162.92,226.49 163.31,226.53 163.7,226.57 164.09,226.61 164.48,226.64 164.87,226.68 165.26,226.72 165.65,226.75 166.04,226.78 166.43,226.82 166.82,226.85 167.21,226.88 167.6,226.91 167.99,226.94 168.38,226.97 168.77,226.99 169.16,227.02 169.55,227.05 169.94,227.07 170.33,227.1 170.72,227.12 171.11,227.15 171.5,227.17 171.89,227.19 172.28,227.22 172.67,227.24 173.06,227.26 173.45,227.28 173.84,227.3 174.23,227.32 174.62,227.34 175.01,227.36 175.4,227.38 175.79,227.39 176.18,227.41 176.57,227.43 176.96,227.45 177.35,227.46 177.74,227.48 178.13,227.49 178.52,227.51 178.91,227.52 179.3,227.54 179.69,227.55 180.08,227.56 180.47,227.58 180.86,227.59 181.25,227.6 181.64,227.62 182.03,227.63 182.42,227.64 182.81,227.65 183.2,227.66 183.59,227.67 183.98,227.68 184.37,227.69 184.76,227.7 185.15,227.71 185.54,227.72 185.93,227.73 186.32,227.74 186.71,227.75 187.1,227.76 187.49,227.77 187.88,227.78 188.27,227.78 188.66,227.79 189.05,227.8 189.44,227.81 189.83,227.81 190.22,227.82 190.61,227.83 191,227.83" fill="none" stroke-width="2.4" stroke-linejoin="round" stroke-linecap="round"/>
<line x1="191" y1="228.3" x2="191" y2="105.8" stroke-width="2.4"/>
<polyline points="191,105.25 191.26,115.88 191.52,123.49 191.78,129.1 192.04,133.39 192.3,136.78 192.56,139.58 192.82,141.98 193.08,144.1 193.34,146.02 193.6,147.81 193.86,149.5 194.12,151.11 194.38,152.66 194.64,154.16 194.9,155.62 195.16,157.04 195.42,158.43 195.68,159.79 195.94,161.12 196.2,162.43 196.46,163.7 196.72,164.95 196.98,166.18 197.24,167.38 197.5,168.56 197.76,169.72 198.02,170.85 198.28,171.97 198.54,173.06 198.8,174.12 199.06,175.17 199.32,176.2 199.58,177.21 199.84,178.2 200.1,179.16 200.36,180.11 200.62,181.05 200.88,181.96 201.14,182.86 201.4,183.73 201.66,184.6 201.92,185.44 202.18,186.27 202.44,187.08 202.7,187.88 202.96,188.66 203.22,189.42 203.48,190.18 203.74,190.91 204,191.63 204.26,192.34 204.52,193.04 204.78,193.72 205.04,194.38 205.3,195.04 205.56,195.68 205.82,196.31 206.08,196.93 206.34,197.53 206.6,198.13 206.86,198.71 207.12,199.28 207.38,199.84 207.64,200.39 207.9,200.93 208.16,201.45 208.42,201.97 208.68,202.48 208.94,202.98 209.2,203.46 209.46,203.94 209.72,204.41 209.98,204.87 210.24,205.32 210.5,205.76 210.76,206.2 211.02,206.62 211.28,207.04 211.54,207.45 211.8,207.85 212.06,208.24 212.32,208.63 212.58,209.01 212.84,209.38 213.1,209.74 213.36,210.1 213.62,210.45 213.88,210.79 214.14,211.13 214.4,211.46 214.66,211.78 214.92,212.1 215.18,212.41 215.44,212.71 215.7,213.01 215.96,213.3 216.22,213.59 216.48,213.87 216.74,214.15 217,214.42 217.26,214.68 217.52,214.95 217.78,215.2 218.04,215.45 218.3,215.7 218.56,215.94 218.82,216.17 219.08,216.41 219.34,216.63 219.6,216.86 219.86,217.07 220.12,217.29 220.38,217.5 220.64,217.7 220.9,217.91 221.16,218.1 221.42,218.3 221.68,218.49 221.94,218.67 222.2,218.86 222.46,219.04 222.72,219.21 222.98,219.39 223.24,219.55 223.5,219.72 223.76,219.88 224.02,220.04 224.28,220.2 224.54,220.35 224.8,220.5 225.06,220.65 225.32,220.8 225.58,220.94 225.84,221.08 226.1,221.21 226.36,221.35 226.62,221.48 226.88,221.61 227.14,221.73 227.4,221.86 227.66,221.98 227.92,222.1 228.18,222.21 228.44,222.33 228.7,222.44 228.96,222.55 229.22,222.66 229.48,222.76 229.74,222.87 230,222.97" fill="none" stroke-width="2.4" stroke-linejoin="round" stroke-linecap="round"/>
<line x1="230" y1="223.2" x2="230" y2="322.3" stroke-width="2.4"/>
<polyline points="230,294.25 230.78,291.44 231.56,288.74 232.34,286.16 233.12,283.69 233.9,281.33 234.68,279.06 235.46,276.89 236.24,274.82 237.02,272.83 237.8,270.93 238.58,269.1 239.36,267.36 240.14,265.69 240.92,264.09 241.7,262.56 242.48,261.09 243.26,259.69 244.04,258.34 244.82,257.06 245.6,255.83 246.38,254.65 247.16,253.52 247.94,252.44 248.72,251.4 249.5,250.41 250.28,249.46 251.06,248.55 251.84,247.68 252.62,246.85 253.4,246.05 254.18,245.29 254.96,244.55 255.74,243.85 256.52,243.18 257.3,242.54 258.08,241.93 258.86,241.34 259.64,240.78 260.42,240.24 261.2,239.72 261.98,239.23 262.76,238.75 263.54,238.3 264.32,237.87 265.1,237.45 265.88,237.05 266.66,236.67 267.44,236.31 268.22,235.96 269,235.62 269.78,235.3 270.56,235 271.34,234.7 272.12,234.42 272.9,234.15 273.68,233.9 274.46,233.65 275.24,233.41 276.02,233.19 276.8,232.97 277.58,232.76 278.36,232.57 279.14,232.38 279.92,232.19 280.7,232.02 281.48,231.85 282.26,231.69 283.04,231.54 283.82,231.39 284.6,231.25 285.38,231.12 286.16,230.99 286.94,230.87 287.72,230.75 288.5,230.64 289.28,230.53 290.06,230.43 290.84,230.33 291.62,230.23 292.4,230.14 293.18,230.05 293.96,229.97 294.74,229.89 295.52,229.82 296.3,229.74 297.08,229.67 297.86,229.61 298.64,229.54 299.42,229.48 300.2,229.42 300.98,229.37 301.76,229.31 302.54,229.26 303.32,229.21 304.1,229.16 304.88,229.12 305.66,229.07 306.44,229.03 307.22,228.99 308,228.96" fill="none" stroke-width="2.4" stroke-linejoin="round" stroke-linecap="round"/>
<path d="M162.1,229.27L163.9,229.33M172.5,229.59L174.3,229.61M180.6,229.6L182.4,229.6" fill="none" stroke-width="2.5"/>
<path d="M193.94,215.42L195.46,216.38M202.31,220.78L203.89,221.62M211.05,224.82L212.75,225.38M218.81,226.54L220.59,226.86M221.8,226.91L223.6,227.09" fill="none" stroke-width="2.5"/>
<path d="M232.67,243.22L234.13,242.18M241.02,237.15L242.58,236.25M249.94,232.96L251.66,232.44M260.11,231.02L261.89,230.78M264.3,230.77L266.1,230.63M275.1,229.76L276.9,229.64M285.4,229.42L287.2,229.38M295.6,229.21L297.4,229.19M305.6,229.11L307.4,229.09" fill="none" stroke-width="2.5"/>
</g>
<g transform="translate(345.6,547.3)" stroke="#000" fill="#000" style="font-family:'Liberation Sans',Arial,Helvetica,sans-serif">
<g stroke="#222">
<line x1="126" y1="24.7" x2="126" y2="431.8" stroke-width="1.9"/>
<line x1="125.1" y1="430.9" x2="308.9" y2="430.9" stroke-width="1.9"/>
<line x1="121.7" y1="430.6" x2="126" y2="430.6" stroke-width="1.7"/>
<line x1="123.6" y1="417.1" x2="126" y2="417.1" stroke-width="1.5"/>
<line x1="123.6" y1="403.6" x2="126" y2="403.6" stroke-width="1.5"/>
<line x1="123.6" y1="390.1" x2="126" y2="390.1" stroke-width="1.5"/>
<line x1="123.6" y1="376.6" x2="126" y2="376.6" stroke-width="1.5"/>
<line x1="121.7" y1="363.1" x2="126" y2="363.1" stroke-width="1.7"/>
<line x1="123.6" y1="349.6" x2="126" y2="349.6" stroke-width="1.5"/>
<line x1="123.6" y1="336.1" x2="126" y2="336.1" stroke-width="1.5"/>
<line x1="123.6" y1="322.6" x2="126" y2="322.6" stroke-width="1.5"/>
<line x1="123.6" y1="309.1" x2="126" y2="309.1" stroke-width="1.5"/>
<line x1="121.7" y1="295.6" x2="126" y2="295.6" stroke-width="1.7"/>
<line x1="123.6" y1="282.1" x2="126" y2="282.1" stroke-width="1.5"/>
<line x1="123.6" y1="268.6" x2="126" y2="268.6" stroke-width="1.5"/>
<line x1="123.6" y1="255.1" x2="126" y2="255.1" stroke-width="1.5"/>
<line x1="123.6" y1="241.6" x2="126" y2="241.6" stroke-width="1.5"/>
<line x1="121.7" y1="228.1" x2="126" y2="228.1" stroke-width="1.7"/>
<line x1="123.6" y1="214.6" x2="126" y2="214.6" stroke-width="1.5"/>
<line x1="123.6" y1="201.1" x2="126" y2="201.1" stroke-width="1.5"/>
<line x1="123.6" y1="187.6" x2="126" y2="187.6" stroke-width="1.5"/>
<line x1="123.6" y1="174.1" x2="126" y2="174.1" stroke-width="1.5"/>
<line x1="121.7" y1="160.6" x2="126" y2="160.6" stroke-width="1.7"/>
<line x1="123.6" y1="147.1" x2="126" y2="147.1" stroke-width="1.5"/>
<line x1="123.6" y1="133.6" x2="126" y2="133.6" stroke-width="1.5"/>
<line x1="123.6" y1="120.1" x2="126" y2="120.1" stroke-width="1.5"/>
<line x1="123.6" y1="106.6" x2="126" y2="106.6" stroke-width="1.5"/>
<line x1="121.7" y1="93.1" x2="126" y2="93.1" stroke-width="1.7"/>
<line x1="123.6" y1="79.6" x2="126" y2="79.6" stroke-width="1.5"/>
<line x1="123.6" y1="66.1" x2="126" y2="66.1" stroke-width="1.5"/>
<line x1="123.6" y1="52.6" x2="126" y2="52.6" stroke-width="1.5"/>
<line x1="123.6" y1="39.1" x2="126" y2="39.1" stroke-width="1.5"/>
<line x1="121.7" y1="25.6" x2="126" y2="25.6" stroke-width="1.7"/>
<line x1="136.4" y1="430.9" x2="136.4" y2="433.2" stroke-width="1.5"/>
<line x1="152" y1="430.9" x2="152" y2="434.9" stroke-width="1.7"/>
<line x1="167.6" y1="430.9" x2="167.6" y2="433.2" stroke-width="1.5"/>
<line x1="183.2" y1="430.9" x2="183.2" y2="433.2" stroke-width="1.5"/>
<line x1="198.8" y1="430.9" x2="198.8" y2="433.2" stroke-width="1.5"/>
<line x1="214.4" y1="430.9" x2="214.4" y2="433.2" stroke-width="1.5"/>
<line x1="230" y1="430.9" x2="230" y2="434.9" stroke-width="1.7"/>
<line x1="245.6" y1="430.9" x2="245.6" y2="433.2" stroke-width="1.5"/>
<line x1="261.2" y1="430.9" x2="261.2" y2="433.2" stroke-width="1.5"/>
<line x1="276.8" y1="430.9" x2="276.8" y2="433.2" stroke-width="1.5"/>
<line x1="292.4" y1="430.9" x2="292.4" y2="433.2" stroke-width="1.5"/>
<line x1="308" y1="430.9" x2="308" y2="434.9" stroke-width="1.7"/>
</g>
<g stroke="none">
<text transform="translate(115.8,34.9) scale(1,1.045)" text-anchor="end" font-size="24.25">0.0<tspan font-family="IPAGothic,'Liberation Sans',sans-serif" font-size="22.08" stroke="#000" stroke-width="0.45" dx="2.02" style="letter-spacing:0.29px">1</tspan>5</text>
<text transform="translate(115.8,102.4) scale(1,1.045)" text-anchor="end" font-size="24.25">0.0<tspan font-family="IPAGothic,'Liberation Sans',sans-serif" font-size="22.08" stroke="#000" stroke-width="0.45" dx="2.02" style="letter-spacing:0.29px">1</tspan></text>
<text transform="translate(115.8,169.9) scale(1,1.045)" text-anchor="end" font-size="24.25">0.005</text>
<text transform="translate(115.8,237.4) scale(1,1.045)" text-anchor="end" font-size="24.25">0</text>
<text transform="translate(115.8,304.9) scale(1,1.045)" text-anchor="end" font-size="24.25">−0.005</text>
<text transform="translate(115.8,372.4) scale(1,1.045)" text-anchor="end" font-size="24.25">−0.0<tspan font-family="IPAGothic,'Liberation Sans',sans-serif" font-size="22.08" stroke="#000" stroke-width="0.45" dx="2.02" style="letter-spacing:0.29px">1</tspan></text>
<text transform="translate(115.8,439.9) scale(1,1.045)" text-anchor="end" font-size="24.25">−0.0<tspan font-family="IPAGothic,'Liberation Sans',sans-serif" font-size="22.08" stroke="#000" stroke-width="0.45" dx="2.02" style="letter-spacing:0.29px">1</tspan>5</text>
<text transform="translate(152.3,464.6) scale(1,1.045)" text-anchor="middle" font-size="24.25">0</text>
<text transform="translate(230.3,464.6) scale(1,1.045)" text-anchor="middle" font-size="24.25"><tspan font-family="IPAGothic,'Liberation Sans',sans-serif" font-size="22.08" stroke="#000" stroke-width="0.45" dx="2.02" style="letter-spacing:0.29px">1</tspan>0</text>
<text transform="translate(308.3,464.6) scale(1,1.045)" text-anchor="middle" font-size="24.25">20</text>
<text transform="translate(217.3,496.7) scale(1,1.03)" text-anchor="middle" font-size="29.2">Time (min)</text>
<text transform="translate(21.4,227.1) rotate(-90)" text-anchor="middle" font-size="28.8">(<tspan font-family="IPAGothic,'Liberation Sans',sans-serif" font-size="26.5" stroke="#000" stroke-width="0.45" dx="2.42" style="letter-spacing:0.35px">1</tspan>/J) <tspan font-family="'Noto Sans CJK SC','Liberation Sans',sans-serif" font-size="23" dx="-3.1" dy="0.8">×</tspan><tspan dx="-3.1" dy="-0.8"> dJ/dt</tspan></text>
<text x="4.6" y="26.5" font-size="38.5">D</text>
<text transform="translate(231.6,65.1) scale(1,1.03)" font-size="24">GLC</text>
<text transform="translate(231.6,93.8) scale(1,1.03)" font-size="24">NBDG</text>
</g>
<line x1="152.3" y1="55.7" x2="224.1" y2="55.7" stroke-width="2.4"/>
<path d="M151.95,85.3L153.65,85.3M162.85,85.3L164.55,85.3M173.65,85.3L175.35,85.3M184.65,85.3L186.35,85.3M195.45,85.3L197.15,85.3M206.25,85.3L207.95,85.3M217.25,85.3L218.95,85.3" fill="none" stroke-width="2.3"/>
<line x1="190.4" y1="409.7" x2="230.6" y2="409.7" stroke-width="3.3"/>
<polyline points="126,228.1 152,228.1" fill="none" stroke-width="2.4" stroke-linejoin="round" stroke-linecap="round"/>
<line x1="152" y1="224.7" x2="152" y2="430.9" stroke-width="2.4"/>
<polyline points="152,224.86 152.39,224.94 152.78,225.02 153.17,225.09 153.56,225.17 153.95,225.24 154.34,225.31 154.73,225.38 155.12,225.45 155.51,225.51 155.9,225.58 156.29,225.64 156.68,225.7 157.07,225.76 157.46,225.82 157.85,225.87 158.24,225.93 158.63,225.98 159.02,226.03 159.41,226.09 159.8,226.13 160.19,226.18 160.58,226.23 160.97,226.28 161.36,226.32 161.75,226.37 162.14,226.41 162.53,226.45 162.92,226.49 163.31,226.53 163.7,226.57 164.09,226.61 164.48,226.64 164.87,226.68 165.26,226.72 165.65,226.75 166.04,226.78 166.43,226.82 166.82,226.85 167.21,226.88 167.6,226.91 167.99,226.94 168.38,226.97 168.77,226.99 169.16,227.02 169.55,227.05 169.94,227.07 170.33,227.1 170.72,227.12 171.11,227.15 171.5,227.17 171.89,227.19 172.28,227.22 172.67,227.24 173.06,227.26 173.45,227.28 173.84,227.3 174.23,227.32 174.62,227.34 175.01,227.36 175.4,227.38 175.79,227.39 176.18,227.41 176.57,227.43 176.96,227.45 177.35,227.46 177.74,227.48 178.13,227.49 178.52,227.51 178.91,227.52 179.3,227.54 179.69,227.55 180.08,227.56 180.47,227.58 180.86,227.59 181.25,227.6 181.64,227.62 182.03,227.63 182.42,227.64 182.81,227.65 183.2,227.66 183.59,227.67 183.98,227.68 184.37,227.69 184.76,227.7 185.15,227.71 185.54,227.72 185.93,227.73 186.32,227.74 186.71,227.75 187.1,227.76 187.49,227.77 187.88,227.78 188.27,227.78 188.66,227.79 189.05,227.8 189.44,227.81 189.83,227.81 190.22,227.82 190.61,227.83 191,227.83" fill="none" stroke-width="2.4" stroke-linejoin="round" stroke-linecap="round"/>
<line x1="191" y1="227.7" x2="191" y2="340.3" stroke-width="2.4"/>
<polyline points="191,332.05 191.39,331.33 191.78,330.63 192.17,329.95 192.56,329.28 192.95,328.64 193.34,328.01 193.73,327.4 194.12,326.8 194.51,326.22 194.9,325.66 195.29,325.11 195.68,324.57 196.07,324.05 196.46,323.54 196.85,323.05 197.24,322.57 197.63,322.1 198.02,321.65 198.41,321.21 198.8,320.78 199.19,320.36 199.58,319.95 199.97,319.55 200.36,319.16 200.75,318.79 201.14,318.42 201.53,318.07 201.92,317.72 202.31,317.38 202.7,317.05 203.09,316.73 203.48,316.42 203.87,316.12 204.26,315.82 204.65,315.53 205.04,315.25 205.43,314.98 205.82,314.72 206.21,314.46 206.6,314.21 206.99,313.96 207.38,313.73 207.77,313.5 208.16,313.27 208.55,313.05 208.94,312.84 209.33,312.63 209.72,312.43 210.11,312.23 210.5,312.04 210.89,311.85 211.28,311.67 211.67,311.5 212.06,311.32 212.45,311.16 212.84,310.99 213.23,310.84 213.62,310.68 214.01,310.53 214.4,310.38 214.79,310.24 215.18,310.1 215.57,309.97 215.96,309.84 216.35,309.71 216.74,309.59 217.13,309.47 217.52,309.35 217.91,309.23 218.3,309.12 218.69,309.01 219.08,308.91 219.47,308.8 219.86,308.7 220.25,308.61 220.64,308.51 221.03,308.42 221.42,308.33 221.81,308.24 222.2,308.16 222.59,308.07 222.98,307.99 223.37,307.92 223.76,307.84 224.15,307.76 224.54,307.69 224.93,307.62 225.32,307.55 225.71,307.49 226.1,307.42 226.49,307.36 226.88,307.3 227.27,307.24 227.66,307.18 228.05,307.12 228.44,307.07 228.83,307.01 229.22,306.96 229.61,306.91 230,306.86" fill="none" stroke-width="2.4" stroke-linejoin="round" stroke-linecap="round"/>
<line x1="230" y1="307.5" x2="230" y2="25.6" stroke-width="2.4"/>
<path d="M233.3,25.7 C233.47,30.08 233.95,43.82 234.3,52 C234.65,60.18 234.93,67.18 235.4,74.8 C235.87,82.42 236.57,90.8 237.1,97.7 C237.63,104.6 238.07,110.87 238.6,116.2 C239.13,121.53 239.73,125.2 240.3,129.7 C240.87,134.2 241.38,138.68 242,143.2 C242.62,147.72 243.22,152.28 244,156.8 C244.78,161.32 245.68,165.8 246.7,170.3 C247.72,174.8 248.63,179.3 250.1,183.8 C251.57,188.3 253.25,193.02 255.5,197.3 C257.75,201.58 260.68,206.12 263.6,209.5 C266.52,212.88 269.4,215.35 273,217.6 C276.6,219.85 281.13,221.65 285.2,223 C289.27,224.35 293.8,225.07 297.4,225.7 C301,226.33 305.23,226.62 306.8,226.8" fill="none" stroke-width="2.4" stroke-linejoin="round"/>
<path d="M162,228.87L163.8,228.93M172.5,229.28L174.3,229.32M179.1,229.21L180.9,229.19" fill="none" stroke-width="2.5"/>
<path d="M193.37,243.22L194.83,242.18M201.7,237.1L203.3,236.3M211.23,233.91L212.97,233.49M221.21,232.06L222.99,231.74" fill="none" stroke-width="2.5"/>
<path d="M236.25,219.8L237.95,220.4M245.34,223.05L247.06,223.55M255.32,225.44L257.08,225.76M264.21,226.69L265.99,226.91M274.5,227.83L276.3,227.97M285.3,228.46L287.1,228.54M295.5,228.79L297.3,228.81M306.1,228.8L307.9,228.8" fill="none" stroke-width="2.5"/>
</g>
</svg></body></html>
